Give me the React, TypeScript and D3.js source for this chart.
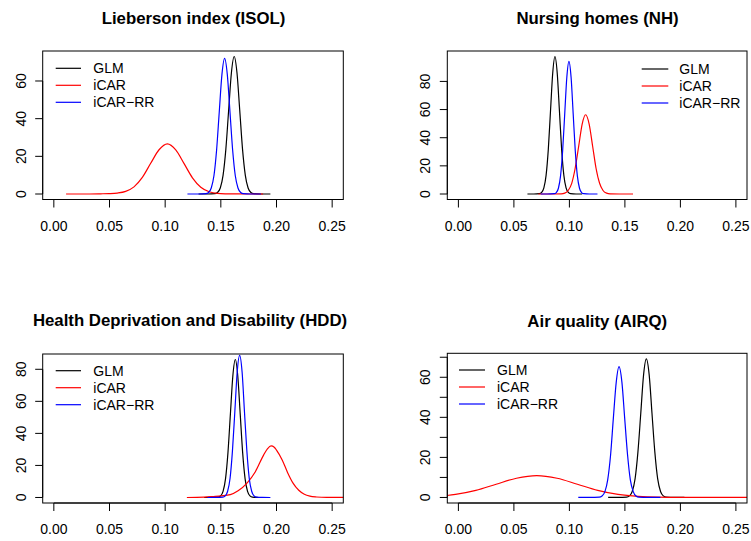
import React from "react";
import * as d3 from "d3";

type Pt = [number, number];

// ---- Data (x = coefficient value, y = density) ----
const isolGLM: Pt[] = [[0.130,0],[0.138,0.01],[0.1445,0.16],[0.147,0.8],[0.1495,3.2],[0.152,9.9],[0.1545,23.7],[0.157,44.3],[0.1595,64.4],[0.162,73.0],[0.1645,64.4],[0.167,44.3],[0.1695,23.7],[0.172,9.9],[0.1745,3.2],[0.177,0.8],[0.1795,0.16],[0.186,0.01],[0.1945,0]];
const isolICAR: Pt[] = [[0.011,0],[0.03,0],[0.042,0.1],[0.0495,0.2],[0.057,0.5],[0.0645,1.4],[0.072,3.8],[0.0795,8.8],[0.087,16.3],[0.0945,23.5],[0.102,26.6],[0.1095,23.4],[0.117,16.1],[0.1245,8.6],[0.132,3.6],[0.1395,1.2],[0.147,0.3],[0.1545,0.1],[0.165,0.02],[0.188,0]];
const isolRR: Pt[] = [[0.120,0],[0.130,0.01],[0.1366,0.16],[0.139,0.8],[0.1414,3.2],[0.1438,9.7],[0.1462,23.4],[0.1486,43.7],[0.151,63.5],[0.1534,72.0],[0.1558,63.5],[0.1582,43.7],[0.1606,23.4],[0.163,9.7],[0.1654,3.2],[0.1678,0.8],[0.1702,0.16],[0.177,0.01],[0.186,0]];

const nhGLM: Pt[] = [[0.0622,0],[0.068,0.01],[0.073,0.2],[0.075,1.1],[0.077,4.3],[0.079,13.2],[0.081,31.7],[0.083,59.3],[0.085,86.2],[0.087,97.7],[0.089,86.2],[0.091,59.3],[0.093,31.7],[0.095,13.2],[0.097,4.3],[0.099,1.1],[0.101,0.2],[0.106,0.01],[0.1115,0]];
const nhICAR: Pt[] = [[0.072,0],[0.085,0.01],[0.0926,0.1],[0.0958,0.6],[0.0989,2.5],[0.1021,7.6],[0.1052,18.3],[0.1084,34.1],[0.1115,49.7],[0.1146,56.3],[0.1178,49.7],[0.1209,34.1],[0.124,18.3],[0.1272,7.6],[0.1303,2.5],[0.1335,0.6],[0.1366,0.1],[0.145,0.01],[0.1573,0]];
const nhRR: Pt[] = [[0.074,0],[0.08,0.01],[0.0863,0.2],[0.0882,1.0],[0.0901,4.1],[0.092,12.7],[0.0939,30.6],[0.0958,57.1],[0.0977,83.1],[0.0996,94.2],[0.1015,83.1],[0.1034,57.1],[0.1053,30.6],[0.1072,12.7],[0.1091,4.1],[0.111,1.0],[0.1129,0.2],[0.118,0.01],[0.1253,0]];

const hddGLM: Pt[] = [[0.135,0],[0.142,0.01],[0.1476,0.2],[0.1498,1.0],[0.152,3.8],[0.1542,11.6],[0.1564,28.0],[0.1586,52.2],[0.1608,76.0],[0.163,86.1],[0.1652,76.0],[0.1674,52.2],[0.1696,28.0],[0.1718,11.6],[0.174,3.8],[0.1762,1.0],[0.1784,0.2],[0.182,0.01],[0.186,0]];
const hddICAR: Pt[] = [[0.1195,0],[0.135,0.2],[0.1434,0.6],[0.1505,1.0],[0.1585,1.8],[0.1655,4.2],[0.1735,9.0],[0.181,16.1],[0.1885,26.6],[0.192,30.5],[0.1951,32.2],[0.198,31.4],[0.2,29.5],[0.205,23.6],[0.21,15.5],[0.215,8.8],[0.22,4.5],[0.225,2.0],[0.23,0.8],[0.236,0.3],[0.245,0.05],[0.27,0]];
const hddRR: Pt[] = [[0.138,0],[0.146,0.01],[0.1518,0.2],[0.154,1.0],[0.1561,3.9],[0.1583,12.0],[0.1604,28.8],[0.1626,53.8],[0.1647,78.3],[0.1669,88.7],[0.1691,78.3],[0.1712,53.8],[0.1734,28.8],[0.1755,12.0],[0.1777,3.9],[0.1798,1.0],[0.182,0.2],[0.187,0.01],[0.1945,0]];

const airqGLM: Pt[] = [[0.1349,0],[0.144,0.01],[0.1515,0.15],[0.1541,0.8],[0.1566,3.0],[0.1592,9.4],[0.1617,22.5],[0.1643,42.0],[0.1668,61.1],[0.1693,69.2],[0.1719,61.1],[0.1744,42.0],[0.177,22.5],[0.1795,9.4],[0.1821,3.0],[0.1846,0.8],[0.1872,0.15],[0.195,0.01],[0.2036,0]];
const airqICAR: Pt[] = [[-0.05,0.05],[-0.0392,0.12],[-0.0209,0.5],[-0.0026,1.5],[0.0157,3.5],[0.034,6.6],[0.0523,9.6],[0.0706,10.9],[0.0889,9.6],[0.1072,6.6],[0.1255,3.5],[0.1438,1.5],[0.1621,0.5],[0.1804,0.12],[0.1987,0.02],[0.217,0.004],[0.27,0]];
const airqRR: Pt[] = [[0.108,0],[0.118,0.01],[0.1269,0.14],[0.1294,0.7],[0.132,2.9],[0.1345,8.8],[0.1371,21.2],[0.1396,39.6],[0.1422,57.6],[0.1447,65.3],[0.1473,57.6],[0.1498,39.6],[0.1524,21.2],[0.1549,8.8],[0.1575,2.9],[0.16,0.7],[0.1626,0.14],[0.171,0.01],[0.182,0]];

const seriesNames = ["GLM", "iCAR", "iCAR\u2212RR"];
const seriesColors = ["#000000", "#FF0000", "#0000FF"];
const panelTitles = [
  "Lieberson index (ISOL)",
  "Nursing homes (NH)",
  "Health Deprivation and Disability (HDD)",
  "Air quality (AIRQ)",
];
const xTicks = [0, 0.05, 0.1, 0.15, 0.2, 0.25];
const xLim: [number, number] = [0, 0.25];
const yTicksISOL = [0, 20, 40, 60];
const yTicksNH = [0, 20, 40, 60, 80];
const yTicksHDD = [0, 20, 40, 60, 80];
const yTicksAIRQ = [0, 10, 20, 30, 40, 50, 60, 70];
const yLabelsAIRQ = [0, 20, 40, 60];

const FONT = "'Liberation Sans', Arial, Helvetica, sans-serif";

const panels = [
  { title: panelTitles[0], series: [isolGLM, isolICAR, isolRR], yTicks: yTicksISOL, yLabels: yTicksISOL,
    box: { l: 42.7, r: 343.3, t: 51, b: 199.5 }, titleX: 193.5, titleY: 24, yLabX: 25.5, xLabY: 231,
    legend: { x1: 55.7, x2: 81, tx: 93.3, y: 68.3 } },
  { title: panelTitles[1], series: [nhGLM, nhICAR, nhRR], yTicks: yTicksNH, yLabels: yTicksNH,
    box: { l: 447.3, r: 747, t: 51, b: 199.5 }, titleX: 597.5, titleY: 23.5, yLabX: 430, xLabY: 231,
    legend: { x1: 641.7, x2: 668.3, tx: 679.3, y: 69 } },
  { title: panelTitles[2], series: [hddGLM, hddICAR, hddRR], yTicks: yTicksHDD, yLabels: yTicksHDD,
    box: { l: 42.7, r: 343.3, t: 354, b: 503 }, titleX: 190, titleY: 326, yLabX: 26, xLabY: 534,
    legend: { x1: 55.7, x2: 81, tx: 93.3, y: 370.7 } },
  { title: panelTitles[3], series: [airqGLM, airqICAR, airqRR], yTicks: yTicksAIRQ, yLabels: yLabelsAIRQ,
    box: { l: 447.3, r: 747, t: 353.3, b: 503 }, titleX: 597.3, titleY: 327, yLabX: 430, xLabY: 534,
    legend: { x1: 459, x2: 485, tx: 497, y: 370 } },
];

function Panel({ p, idx }: { p: (typeof panels)[number]; idx: number }) {
  const { box } = p;
  const xr = xLim[1] - xLim[0];
  const x = d3.scaleLinear().domain([xLim[0] - 0.04 * xr, xLim[1] + 0.04 * xr]).range([box.l, box.r]);
  const G = d3.max(p.series[0], (d) => d[1]) as number;
  const y = d3.scaleLinear().domain([-0.04 * G, 1.04 * G]).range([box.b, box.t]);
  const line = d3.line<Pt>().x((d) => x(d[0])).y((d) => y(d[1])).curve(d3.curveMonotoneX);
  const clipId = `clip${idx}`;
  const yMinT = d3.min(p.yTicks) as number;
  const yMaxT = d3.max(p.yTicks) as number;
  return (
    <g>
      <defs>
        <clipPath id={clipId}>
          <rect x={box.l} y={box.t} width={box.r - box.l} height={box.b - box.t} />
        </clipPath>
      </defs>
      <text x={p.titleX} y={p.titleY} textAnchor="middle" fontWeight="bold" fontSize={16.8} fontFamily={FONT}>
        {p.title}
      </text>
      <g clipPath={`url(#${clipId})`}>
        {p.series.map((s, i) => (
          <path key={i} d={line(s) || ""} fill="none" stroke={seriesColors[i]} strokeWidth={1.2} />
        ))}
      </g>
      <rect x={box.l} y={box.t} width={box.r - box.l} height={box.b - box.t} fill="none" stroke="#000" strokeWidth={1} />
      {/* x axis */}
      <line x1={x(xTicks[0])} x2={x(xTicks[xTicks.length - 1])} y1={box.b} y2={box.b} stroke="#000" />
      {xTicks.map((v) => (
        <g key={v}>
          <line x1={x(v)} x2={x(v)} y1={box.b} y2={box.b + 8} stroke="#000" />
          <text x={x(v)} y={p.xLabY} textAnchor="middle" fontSize={14} fontFamily={FONT} fill="#000">
            {d3.format(".2f")(v)}
          </text>
        </g>
      ))}
      {/* y axis */}
      <line x1={box.l} x2={box.l} y1={y(yMinT)} y2={y(yMaxT)} stroke="#000" />
      {p.yTicks.map((v) => (
        <line key={v} x1={box.l - 7.5} x2={box.l} y1={y(v)} y2={y(v)} stroke="#000" />
      ))}
      {p.yLabels.map((v) => (
        <text key={v} transform={`translate(${p.yLabX},${y(v)}) rotate(-90)`} textAnchor="middle"
          fontSize={14} fontFamily={FONT} fill="#000">
          {String(v)}
        </text>
      ))}
      {/* legend */}
      {seriesNames.map((n, i) => {
        const ly = p.legend.y + i * 17;
        return (
          <g key={n}>
            <line x1={p.legend.x1} x2={p.legend.x2} y1={ly} y2={ly} stroke={seriesColors[i]} strokeWidth={1.2} />
            <text x={p.legend.tx} y={ly + 5} fontSize={14} fontFamily={FONT} fill="#000">{n}</text>
          </g>
        );
      })}
    </g>
  );
}

export default function App() {
  return (
    <svg width={751} height={541} style={{ position: "absolute", left: 0, top: 0, background: "#fff" }}>
      <rect x={0} y={0} width={751} height={541} fill="#fff" />
      {panels.map((p, i) => (
        <Panel key={i} p={p} idx={i} />
      ))}
    </svg>
  );
}
